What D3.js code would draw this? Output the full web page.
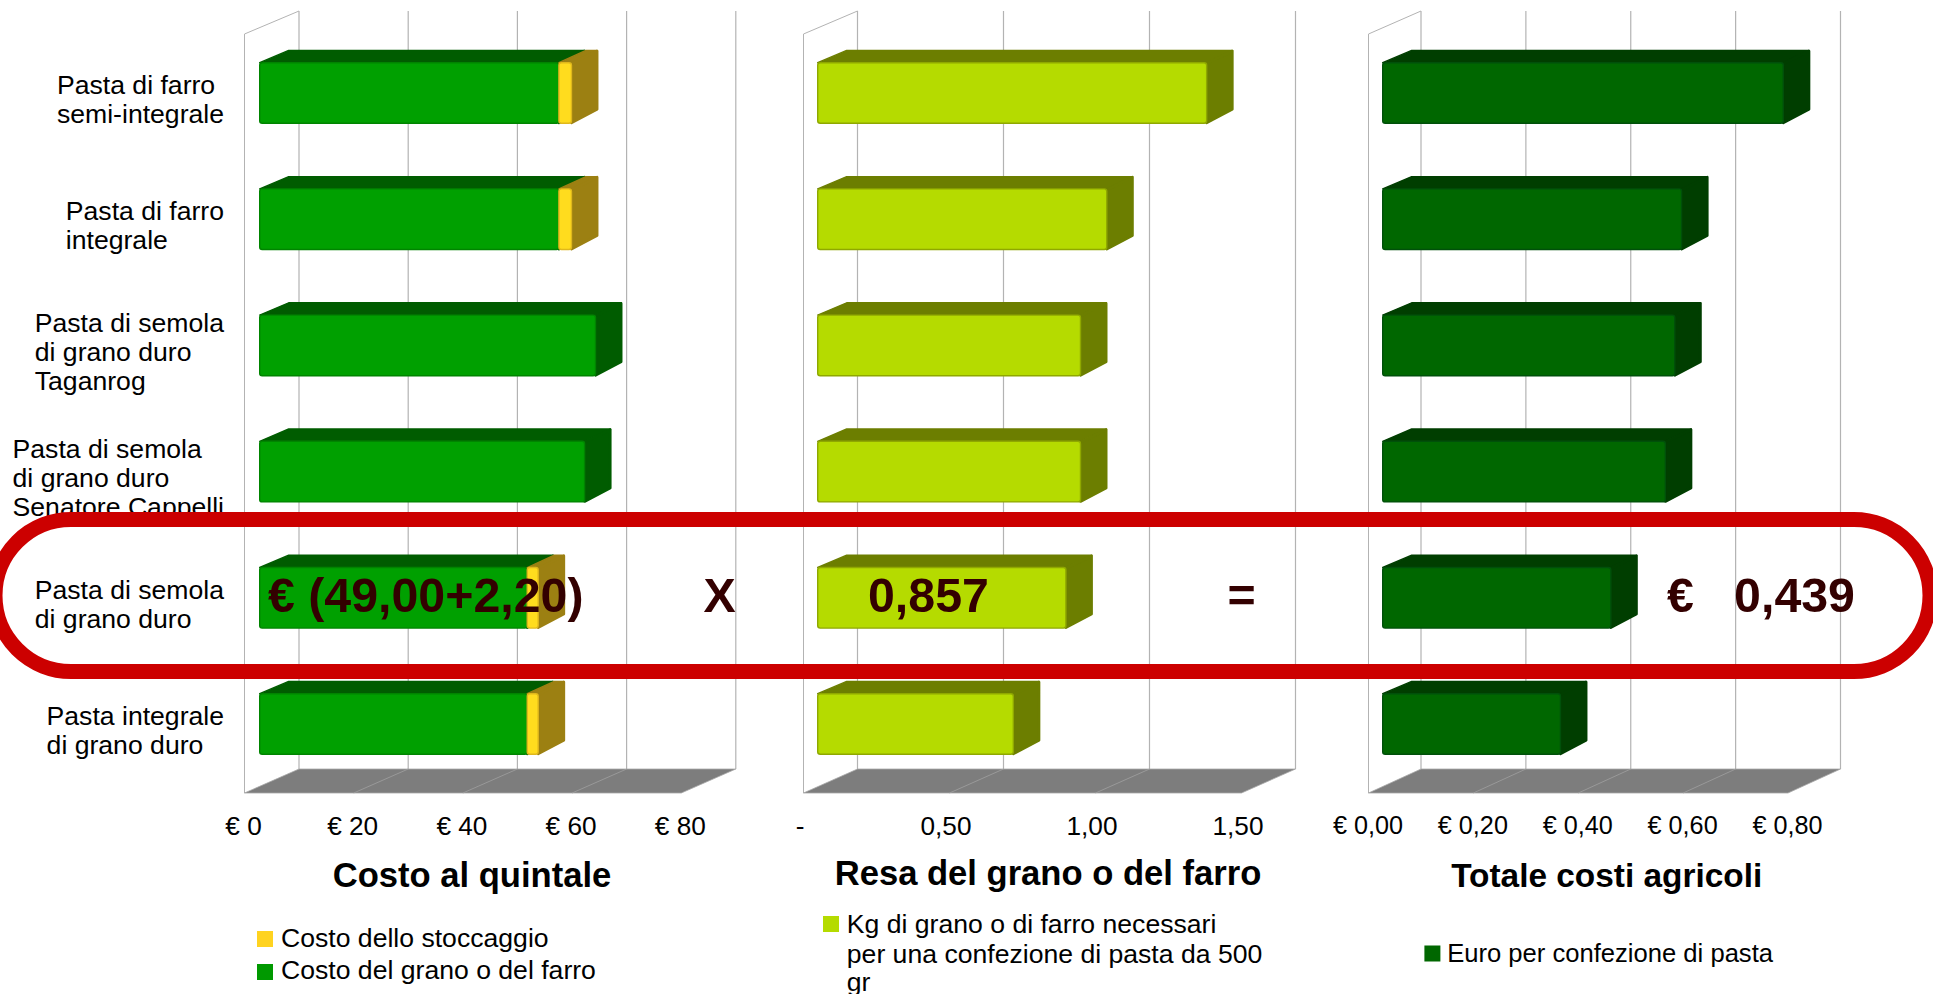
<!DOCTYPE html>
<html><head><meta charset="utf-8">
<style>html,body{margin:0;background:#fff;overflow:hidden}text{font-family:"Liberation Sans",Arial,sans-serif}</style>
<script src="https://cdn.jsdelivr.net/npm/d3@7/dist/d3.min.js"></script></head>
<body><svg id="c" width="1933" height="994"></svg>
<script>
const categories = [
  ["Pasta di farro","semi-integrale"],
  ["Pasta di farro","integrale"],
  ["Pasta di semola","di grano duro","Taganrog"],
  ["Pasta di semola","di grano duro","Senatore Cappelli"],
  ["Pasta di semola","di grano duro"],
  ["Pasta integrale","di grano duro"]
];
const costoGrano = [54.8, 54.8, 61.5, 59.5, 49, 49];
const costoStoccaggio = [2.3, 2.3, 0, 0, 2.0, 2.0];
const resaGrano = [1.332, 0.99, 0.90, 0.90, 0.85, 0.67];
const totaleCosti = [0.764, 0.570, 0.557, 0.539, 0.435, 0.339];
const ticks1 = [0,20,40,60,80], tickLabels1 = ["€ 0","€ 20","€ 40","€ 60","€ 80"];
const ticks2 = [0,0.5,1,1.5], tickLabels2 = ["-","0,50","1,00","1,50"];
const ticks3 = [0,0.2,0.4,0.6,0.8], tickLabels3 = ["€ 0,00","€ 0,20","€ 0,40","€ 0,60","€ 0,80"];
const titles = ["Costo al quintale","Resa del grano o del farro","Totale costi agricoli"];
const legend1 = ["Costo dello stoccaggio","Costo del grano o del farro"];
const legend2 = ["Kg di grano o di farro necessari","per una confezione di pasta da 500","gr"];
const legend3 = ["Euro per confezione di pasta"];

const GREEN={front:"#00a000",edge:"#008400",dark:"#005c00"},
      YELLOW={front:"#ffdc1e",edge:"#e0b81c",dark:"#9c8012"},
      LIME={front:"#b5db00",edge:"#8fa800",dark:"#6c7e00"},
      DARK={front:"#006700",edge:"#00500a",dark:"#003e00"};

const panels = [
 {ticks:ticks1,labels:tickLabels1,range:[244.5,681.3],wall:54.5,inset:15.2,labelDx:-1.5,tickFont:26.2,
  series:[{v:costoGrano,c:GREEN},{v:costoStoccaggio,c:YELLOW}],title:titles[0],titleX:472,titleY:887,titleFont:34.6},
 {ticks:ticks2,labels:tickLabels2,range:[803.5,1241.5],wall:54,inset:14.2,labelDx:-4,tickFont:26.2,
  series:[{v:resaGrano,c:LIME}],title:titles[1],titleX:1048,titleY:885,titleFont:34.6},
 {ticks:ticks3,labels:tickLabels3,range:[1368.5,1788],wall:52.5,inset:14.2,labelDx:-1,tickFont:25.2,
  series:[{v:totaleCosti,c:DARK}],title:titles[2],titleX:1606.7,titleY:887,titleFont:33.4}
];
const svg=d3.select("#c");
const y=d3.scaleBand().domain(d3.range(categories.length)).range([29.9,787.1]).paddingInner(.52).paddingOuter(.26);
const labelY=d3.scalePoint().domain(d3.range(categories.length)).range([108.3,739.3]);
const wallTop=34, wallBack=11, floorFront=793, floorBack=769, dX=27, dXtop=29, dY=13;
const line=d3.line();

panels.forEach(p=>{
  const x=d3.scaleLinear().domain([p.ticks[0],p.ticks[p.ticks.length-1]]).range(p.range);
  const g=svg.append("g");
  g.selectAll(".grid").data(p.ticks).join("line")
    .attr("x1",d=>x(d)+p.wall).attr("x2",d=>x(d)+p.wall).attr("y1",wallBack).attr("y2",floorBack)
    .attr("stroke","#b3b3b3").attr("stroke-width",1.2);
  g.append("path").attr("d",line([[x(0),floorFront],[x(0),wallTop],[x(0)+p.wall,wallBack]]))
    .attr("fill","none").attr("stroke","#b3b3b3").attr("stroke-width",1);
  const xMax=p.ticks[p.ticks.length-1];
  g.append("path").attr("d",line([[x(0),floorFront],[x(0)+p.wall,floorBack],[x(xMax)+p.wall,floorBack],[x(xMax),floorFront]])+"Z")
    .attr("fill","#7d7d7d").attr("stroke","#a8a8a8").attr("stroke-width",.8);
  g.selectAll(".fl").data(p.ticks.slice(1,-1)).join("line")
    .attr("x1",d=>x(d)).attr("x2",d=>x(d)+p.wall).attr("y1",floorFront).attr("y2",floorBack)
    .attr("stroke","#a0a0a0").attr("stroke-width",.8);
  const bx=v=>x(v)+p.inset;
  categories.forEach((_,i)=>{
    let acc=0;
    p.series.forEach((s,si)=>{
      const v=s.v[i]; if(!v) return;
      const x0=bx(acc), x1=bx(acc+v); acc+=v;
      const t=y(i), b=t+y.bandwidth();
      const bar=g.append("g");
      const lead=si===0?dXtop:dX;
      bar.append("path").attr("d",line([[x0,t],[x0+lead,t-dY+.7],[x1+dX-1,t-dY+.7],[x1,t]])+"Z")
        .attr("fill",s.c.dark).attr("stroke",s.c.dark).attr("stroke-width",1.4).attr("stroke-linejoin","round");
      bar.append("path").attr("d",line([[x1,t+1],[x1+dX-1.4,t-dY+1.4],[x1+dX-1.4,b-dY-1],[x1,b-.5]])+"Z")
        .attr("fill",s.c.dark).attr("stroke",s.c.dark).attr("stroke-width",2.8).attr("stroke-linejoin","round");
      bar.append("rect").attr("x",x0).attr("y",t).attr("width",x1-x0).attr("height",b-t).attr("rx",2.5)
        .attr("fill",s.c.front).attr("stroke",s.c.edge).attr("stroke-width",1.4);
    });
  });
  const ax=d3.axisBottom(x).tickValues(p.ticks).tickSize(0).tickPadding(23)
    .tickFormat((d,i)=>p.labels[i]);
  const ag=svg.append("g").attr("transform",`translate(${p.labelDx},${floorFront})`).call(ax);
  ag.select(".domain").remove();
  ag.selectAll("text").attr("font-size",p.tickFont).attr("font-family",'"Liberation Sans"').attr("fill","#000");
  svg.append("text").attr("x",p.titleX).attr("y",p.titleY).attr("text-anchor","middle")
    .attr("font-weight","bold").attr("font-size",p.titleFont).text(p.title);
});

categories.forEach((lines,i)=>{
  const t=svg.append("text").attr("font-size",26.6).attr("fill","#000");
  const mean=labelY(i), lh=29;
  const sp=t.selectAll("tspan").data(lines).join("tspan")
    .attr("y",(d,k)=>mean+(k-(lines.length-1)/2)*lh).text(d=>d);
  let w=0; sp.each(function(){w=Math.max(w,this.getComputedTextLength());});
  sp.attr("x",224-w);
});

const sw=(x,y0,c)=>svg.append("rect").attr("x",x).attr("y",y0).attr("width",16).attr("height",16).attr("fill",c);
const lt=(x,y0,s,fs=26.6)=>svg.append("text").attr("x",x).attr("y",y0).attr("font-size",fs).text(s);
sw(257,931,"#ffd320"); lt(281,946.7,legend1[0]);
sw(257,964,"#009900"); lt(281,979,legend1[1]);
sw(823,916,"#b5db00");
legend2.forEach((s,k)=>lt(846.8,[933,962.7,991][k],s));
sw(1424.4,945.5,"#006700"); lt(1447.2,961.5,legend3[0],25.6);

const over=(x,s,a="start")=>svg.append("text").attr("x",x).attr("y",612).attr("text-anchor",a)
  .attr("font-size",48.3).attr("font-weight","bold").attr("fill","#330000").style("white-space","pre").text(s);
over(268,"€ (49,00+2,20)");
over(703.5,"X");
over(868,"0,857");
over(1241.5,"=","middle");
over(1667,"€   0,439");

svg.append("rect").attr("x",-5).attr("y",519.5).attr("width",1935).attr("height",152).attr("rx",76)
  .attr("fill","none").attr("stroke","#cc0000").attr("stroke-width",15);
</script></body></html>
